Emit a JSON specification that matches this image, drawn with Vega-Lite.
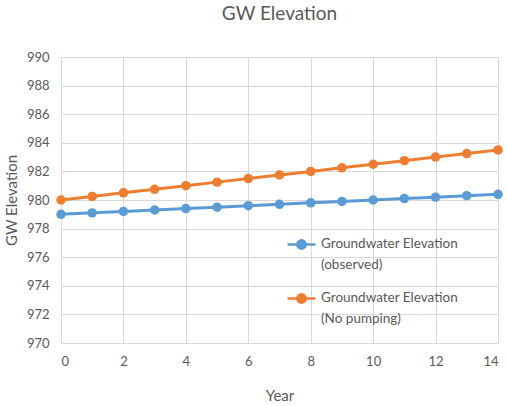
{
  "$schema": "https://vega.github.io/schema/vega-lite/v6.json",
  "width": 437,
  "height": 286,
  "autosize": "none",
  "padding": {"left": 61, "top": 57, "right": 9, "bottom": 63},
  "background": "white",
  "title": {"text": "GW Elevation", "fontSize": 19, "font": "Lato", "fontWeight": "normal", "color": "#595959", "anchor": "middle", "offset": 27},
  "config": {
    "view": {"stroke": null},
    "font": "Lato",
    "axis": {"labelFont": "Lato", "titleFont": "Lato", "labelColor": "#595959", "titleColor": "#595959", "labelFontSize": 13, "titleFontSize": 15, "titleFontWeight": "normal", "gridColor": "#d9d9d9", "gridWidth": 1, "domain": false, "ticks": false}
  },
  "data": {"values": [
    {"year": 0, "series": "Groundwater Elevation (observed)", "elev": 979.0},
    {"year": 1, "series": "Groundwater Elevation (observed)", "elev": 979.1},
    {"year": 2, "series": "Groundwater Elevation (observed)", "elev": 979.2},
    {"year": 3, "series": "Groundwater Elevation (observed)", "elev": 979.3},
    {"year": 4, "series": "Groundwater Elevation (observed)", "elev": 979.4},
    {"year": 5, "series": "Groundwater Elevation (observed)", "elev": 979.5},
    {"year": 6, "series": "Groundwater Elevation (observed)", "elev": 979.6},
    {"year": 7, "series": "Groundwater Elevation (observed)", "elev": 979.7},
    {"year": 8, "series": "Groundwater Elevation (observed)", "elev": 979.8},
    {"year": 9, "series": "Groundwater Elevation (observed)", "elev": 979.9},
    {"year": 10, "series": "Groundwater Elevation (observed)", "elev": 980.0},
    {"year": 11, "series": "Groundwater Elevation (observed)", "elev": 980.1},
    {"year": 12, "series": "Groundwater Elevation (observed)", "elev": 980.2},
    {"year": 13, "series": "Groundwater Elevation (observed)", "elev": 980.3},
    {"year": 14, "series": "Groundwater Elevation (observed)", "elev": 980.4},
    {"year": 0, "series": "Groundwater Elevation (No pumping)", "elev": 980.0},
    {"year": 1, "series": "Groundwater Elevation (No pumping)", "elev": 980.25},
    {"year": 2, "series": "Groundwater Elevation (No pumping)", "elev": 980.5},
    {"year": 3, "series": "Groundwater Elevation (No pumping)", "elev": 980.75},
    {"year": 4, "series": "Groundwater Elevation (No pumping)", "elev": 981.0},
    {"year": 5, "series": "Groundwater Elevation (No pumping)", "elev": 981.25},
    {"year": 6, "series": "Groundwater Elevation (No pumping)", "elev": 981.5},
    {"year": 7, "series": "Groundwater Elevation (No pumping)", "elev": 981.75},
    {"year": 8, "series": "Groundwater Elevation (No pumping)", "elev": 982.0},
    {"year": 9, "series": "Groundwater Elevation (No pumping)", "elev": 982.25},
    {"year": 10, "series": "Groundwater Elevation (No pumping)", "elev": 982.5},
    {"year": 11, "series": "Groundwater Elevation (No pumping)", "elev": 982.75},
    {"year": 12, "series": "Groundwater Elevation (No pumping)", "elev": 983.0},
    {"year": 13, "series": "Groundwater Elevation (No pumping)", "elev": 983.25},
    {"year": 14, "series": "Groundwater Elevation (No pumping)", "elev": 983.5}
  ]},
  "encoding": {
    "x": {"field": "year", "type": "quantitative", "title": "Year", "scale": {"domain": [0, 14], "nice": false}, "axis": {"values": [0, 2, 4, 6, 8, 10, 12, 14], "labelPadding": 12, "titlePadding": 20}},
    "y": {"field": "elev", "type": "quantitative", "title": "GW Elevation", "scale": {"domain": [970, 990], "nice": false, "zero": false}, "axis": {"values": [970, 972, 974, 976, 978, 980, 982, 984, 986, 988, 990], "labelPadding": 12, "titlePadding": 7}},
    "color": {"field": "series", "type": "nominal", "scale": {"domain": ["Groundwater Elevation (observed)", "Groundwater Elevation (No pumping)"], "range": ["#5B9BD5", "#ED7D31"]},
      "legend": {
       "title": null, "orient": "none", "legendX": 225, "legendY": 172,
       "symbolType": "M-1,0L1,0M0.3,0A0.3,0.3,0,1,1,-0.3,0A0.3,0.3,0,1,1,0.3,0Z",
       "symbolSize": 784, "symbolStrokeWidth": 2.5,
       "labelFont": "Lato", "labelFontSize": 13.5, "labelColor": "#595959", "labelLimit": 300,
       "labelExpr": "[slice(datum.label,0,21), slice(datum.label,22)]",
       "labelBaseline": "top", "labelOffset": 4, "rowPadding": 12,
       "encode": {"symbols": {"update": {"fill": {"scale": "color", "field": "value"}, "stroke": {"scale": "color", "field": "value"}}},
                  "labels": {"update": {"dy": {"value": -8}, "lineHeight": {"value": 21}}}}
     }}
  },
  "layer": [
    {"mark": {"type": "line", "strokeWidth": 3}},
    {"mark": {"type": "point", "filled": true, "size": 90, "opacity": 1}}
  ]
}
